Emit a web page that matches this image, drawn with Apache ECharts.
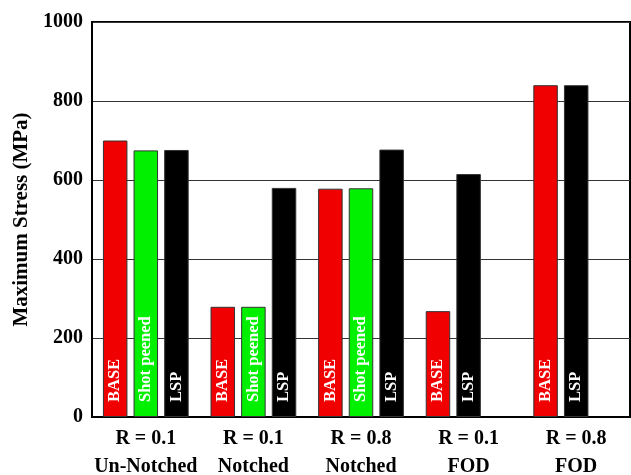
<!DOCTYPE html>
<html>
<head>
<meta charset="utf-8">
<script src="https://cdn.jsdelivr.net/npm/echarts@6/dist/echarts.min.js"></script>
<style>html,body{margin:0;padding:0;background:#fff}#c{width:631px;height:475px}</style>
</head>
<body>
<div id="c"></div>
<script>
var categories = ['R = 0.1\nUn-Notched', 'R = 0.1\nNotched', 'R = 0.8\nNotched', 'R = 0.1\nFOD', 'R = 0.8\nFOD'];
var baseValues = [700, 279, 578, 268, 840];
var shotPeenedValues = [675, 279, 579, null, null];
var lspValues = [676, 580, 677, 615, 840];
var yTicks = [0, 200, 400, 600, 800, 1000];
var treatmentNames = ['BASE', 'Shot peened', 'LSP'];

var RED = '#f00000', GREEN = '#00f000', BLACK = '#000000';
var FONT = '"Liberation Serif", "Times New Roman", serif';

function lbl(text) {
  return {
    show: true, formatter: text, position: 'insideBottom', distance: 15,
    rotate: 90, align: 'left', verticalAlign: 'middle',
    color: '#fff', fontFamily: FONT, fontWeight: 'bold', fontSize: 16.5
  };
}
function item(v, name, color) {
  if (v == null) return { value: '-' };
  return { value: v, itemStyle: { color: color }, label: lbl(name) };
}
// slot layout: BASE | Shot peened (or LSP if no shot peened) | LSP
var slot1 = [], slot2 = [], slot3 = [];
for (var i = 0; i < categories.length; i++) {
  slot1.push(item(baseValues[i], treatmentNames[0], RED));
  if (shotPeenedValues[i] != null) {
    slot2.push(item(shotPeenedValues[i], treatmentNames[1], GREEN));
    slot3.push(item(lspValues[i], treatmentNames[2], BLACK));
  } else {
    slot2.push(item(lspValues[i], treatmentNames[2], BLACK));
    slot3.push({ value: '-' });
  }
}
var barCommon = {
  type: 'bar', barWidth: 24.5, barGap: '25%',
  itemStyle: { borderColor: '#333', borderWidth: 1 },
  animation: false
};
var chart = echarts.init(document.getElementById('c'));
chart.setOption({
  backgroundColor: '#fff',
  animation: false,
  grid: { left: 92, right: 1, top: 22, bottom: 58, containLabel: false, outerBoundsMode: 'none', show: true, borderColor: '#000', borderWidth: 2, backgroundColor: 'transparent' },
  xAxis: {
    type: 'category', data: categories, boundaryGap: true,
    axisLine: { lineStyle: { color: '#000', width: 2 } },
    axisTick: { show: false },
    axisLabel: { color: '#000', fontFamily: FONT, fontWeight: 'bold', fontSize: 20, lineHeight: 28, margin: 8, interval: 0 }
  },
  yAxis: {
    type: 'value', min: yTicks[0], max: yTicks[yTicks.length - 1], interval: yTicks[1] - yTicks[0],
    name: 'Maximum Stress (MPa)', nameLocation: 'middle', nameGap: 52,
    nameTextStyle: { color: '#000', fontFamily: FONT, fontWeight: 'bold', fontSize: 21 },
    axisLine: { show: true, lineStyle: { color: '#000', width: 2 } },
    axisTick: { show: false },
    axisLabel: { color: '#000', fontFamily: FONT, fontWeight: 'bold', fontSize: 20, margin: 9, formatter: function (v) { return String(v); } },
    splitLine: { show: true, lineStyle: { color: '#333', width: 1 } }
  },
  series: [
    Object.assign({ name: 'slot1', data: slot1 }, barCommon),
    Object.assign({ name: 'slot2', data: slot2 }, barCommon),
    Object.assign({ name: 'slot3', data: slot3 }, barCommon)
  ]
});
</script>
</body>
</html>
